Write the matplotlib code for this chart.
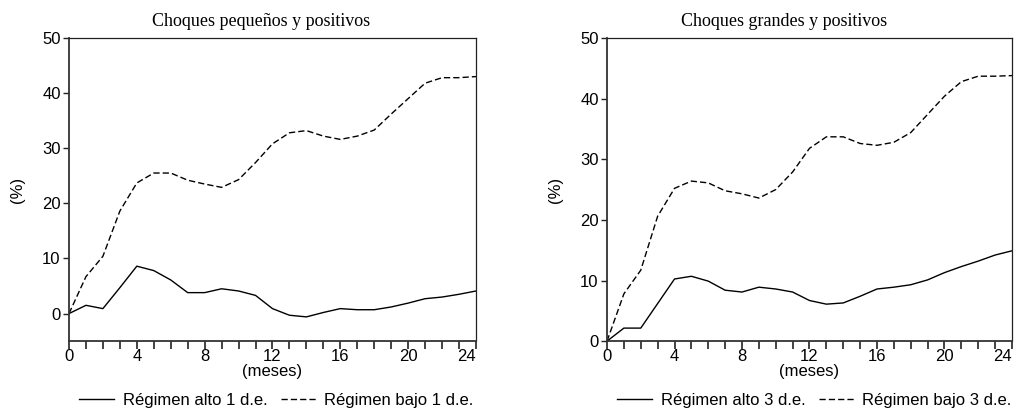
import matplotlib
matplotlib.use("Agg")
import matplotlib.pyplot as plt
from matplotlib.ticker import MultipleLocator

# Datos (meses 0..24)
meses = list(range(25))

alto_1de = [0.0, 1.5, 0.9, 4.7, 8.6, 7.8, 6.1, 3.8, 3.8, 4.5, 4.1, 3.3, 0.9,
            -0.3, -0.6, 0.2, 0.9, 0.7, 0.7, 1.2, 1.9, 2.7, 3.0, 3.5, 4.1]
bajo_1de = [0.0, 6.7, 10.4, 18.6, 23.7, 25.5, 25.5, 24.2, 23.5, 22.9, 24.3, 27.4, 30.8,
            32.8, 33.2, 32.2, 31.6, 32.2, 33.3, 36.2, 39.0, 41.8, 42.8, 42.8, 43.0]

alto_3de = [0.0, 2.15, 2.15, 6.2, 10.25, 10.7, 9.9, 8.4, 8.1, 8.9, 8.6, 8.1, 6.7,
            6.1, 6.3, 7.4, 8.6, 8.9, 9.3, 10.1, 11.3, 12.3, 13.2, 14.2, 14.9]
bajo_3de = [0.0, 7.8, 11.7, 20.6, 25.2, 26.4, 26.1, 24.8, 24.3, 23.6, 25.0, 27.9, 31.8,
            33.7, 33.7, 32.6, 32.3, 32.8, 34.4, 37.4, 40.4, 42.8, 43.7, 43.7, 43.8]

ticks_meses = [0, 4, 8, 12, 16, 20, 24]
titulos = ["Choques pequeños y positivos", "Choques grandes y positivos"]
etiquetas = [("Régimen alto 1 d.e.", "Régimen bajo 1 d.e."),
             ("Régimen alto 3 d.e.", "Régimen bajo 3 d.e.")]

plt.rcParams["font.family"] = "Liberation Sans"

fig = plt.figure(figsize=(10.19, 4.13), dpi=100)
ax1 = fig.add_axes([0.0677, 0.174, 0.3994, 0.734])
ax2 = fig.add_axes([0.5957, 0.174, 0.3974, 0.734])

series = [(alto_1de, bajo_1de), (alto_3de, bajo_3de)]
ylims = [(-5, 50), (0, 50)]
titulo_x = [0.472, 0.437]
leyenda_x = [0.271, 0.799]

for i, ax in enumerate([ax1, ax2]):
    alto, bajo = series[i]
    l1, = ax.plot(meses, alto, color="black", lw=1.0, label=etiquetas[i][0])
    l2, = ax.plot(meses, bajo, color="black", lw=1.0, dashes=(4.5, 2.2),
                  label=etiquetas[i][1])
    ax.set_xlim(0, 24)
    ax.set_ylim(*ylims[i])
    ax.set_xticks(ticks_meses)
    ax.xaxis.set_minor_locator(MultipleLocator(1))
    ax.yaxis.set_major_locator(MultipleLocator(10))
    ax.tick_params(axis="x", which="both", direction="out", length=6,
                   width=1.2, pad=0, labelsize=12, color="#222222")
    ax.tick_params(axis="y", direction="out", length=4, width=1.0, pad=2,
                   labelsize=12, color="#222222")
    ax.tick_params(top=False, right=False)
    # la última etiqueta (24) queda alineada a la derecha, como en el original
    ax.get_xticklabels()[-1].set_horizontalalignment("right")
    for s in ["left", "bottom"]:
        ax.spines[s].set_linewidth(1.3)
        ax.spines[s].set_color("#333333")
    for s in ["top", "right"]:
        ax.spines[s].set_linewidth(0.9)
        ax.spines[s].set_color("#222222")
    ax.set_xlabel("(meses)", fontsize=12, labelpad=0)
    ax.set_ylabel("(%)", fontsize=12, labelpad=12)
    ax.text(titulo_x[i], 1.025, titulos[i], transform=ax.transAxes,
            ha="center", va="bottom", fontsize=13, family="Liberation Serif")
    fig.legend(handles=[l1, l2], loc="center",
               bbox_to_anchor=(leyenda_x[i], 1 - 400 / 413), ncol=2,
               frameon=False, fontsize=12, handlelength=2.1,
               handletextpad=0.5, columnspacing=0.8)

fig.savefig("out.png", dpi=100)
plt.close()
